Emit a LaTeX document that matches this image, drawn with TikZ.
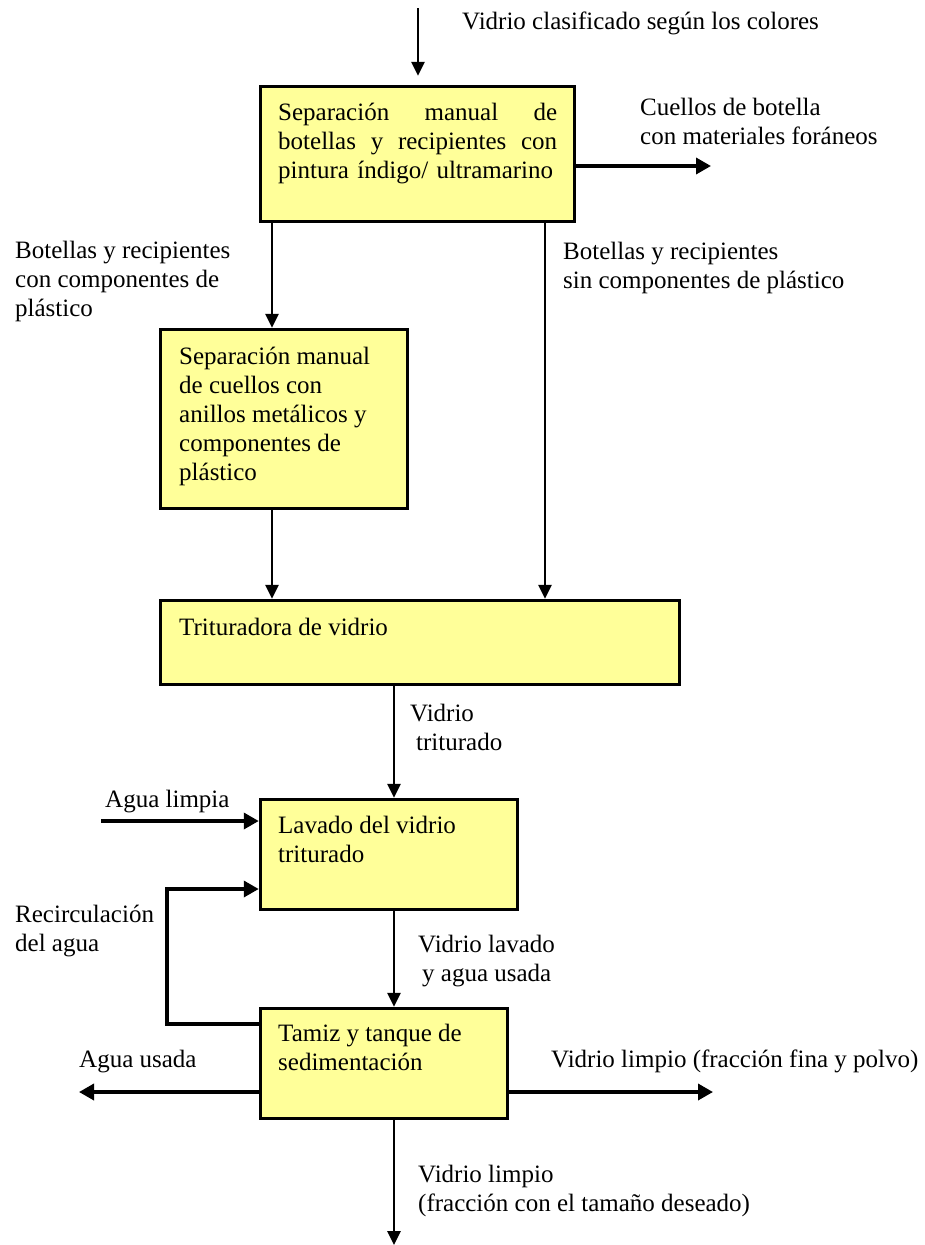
\documentclass[tikz,border=0pt]{standalone}
\usepackage{fontspec}
\setmainfont{Liberation Serif}
\usetikzlibrary{positioning,calc,arrows.meta}
\definecolor{boxyellow}{HTML}{FFFF99}

\begin{document}
\begin{tikzpicture}[x=1pt, y=-1pt]
	\useasboundingbox (0,0) rectangle (924,1245);
	\begin{scope}
		\tikzstyle{every node}=[align=left, inner sep=0pt, font=\fontsize{25}{29}\selectfont]
		\tikzstyle{proc}=[draw, line width=3.5pt, fill=boxyellow]
		\tikzstyle{txt}=[anchor=base west]
		\tikzstyle{flow}=[->, line width=2.8pt, >={Triangle[length=14pt,width=13pt]}]
		\tikzstyle{side}=[->, line width=3.5pt, >={Triangle[length=15pt,width=16pt]}]

		% process boxes
		\node[proc, minimum width=314pt, minimum height=135pt] (sep1) at (417.5, 154) {};
		\node[proc, minimum width=247pt, minimum height=179pt] (sep2) at (284, 419) {};
		\node[proc, minimum width=519pt, minimum height=84pt]  (trit) at (420, 642.5) {};
		\node[proc, minimum width=257pt, minimum height=110pt] (lav)  at (389, 854.5) {};
		\node[proc, minimum width=247pt, minimum height=110pt] (tam)  at (384, 1063.5) {};

		% box texts (base = last line)
		\node[txt, text width=279pt] (sep1t) at (278, 120)
			{Separación\hfill manual\hfill de\\botellas\hfill y\hfill recipientes\hfill con\\pintura índigo/ ultramarino};
		\node[txt] (sep2t) at (179, 480)
			{Separación manual\\de cuellos con\\anillos metálicos y\\componentes de\\plástico};
		\node[txt] (tritt) at (179, 635) {Trituradora de vidrio};
		\node[txt] (lavt)  at (278, 862) {Lavado del vidrio\\triturado};
		\node[txt] (tamt)  at (278, 1070) {Tamiz y tanque de\\sedimentación};

		% labels
		\node[txt] (lblin)     at (462, 29)   {Vidrio clasificado según los colores};
		\node[txt] (lblneck)   at (640, 144)  {Cuellos de botella\\con materiales foráneos};
		\node[txt] (lblplas)   at (15, 316)   {Botellas y recipientes\\con componentes de\\plástico};
		\node[txt] (lblnopl)   at (563, 288)  {Botellas y recipientes\\sin componentes de plástico};
		\node[txt] (lblcrush)  at (410, 750)  {Vidrio\\\hspace*{6pt}triturado};
		\node[txt] (lblwater)  at (105, 807)  {Agua limpia};
		\node[txt] (lblrecirc) at (15, 951)   {Recirculación\\del agua};
		\node[txt] (lblwash)   at (418, 981)  {Vidrio lavado\\\hspace*{4pt}y agua usada};
		\node[txt] (lblused)   at (79, 1067)  {Agua usada};
		\node[txt] (lblfine)   at (551, 1067) {Vidrio limpio (fracción fina y polvo)};
		\node[txt] (lblprod)   at (418, 1211) {Vidrio limpio\\(fracción con el tamaño deseado)};

		\coordinate (feed)  at (418, 8);
		\coordinate (neck)  at (711, 166);
		\coordinate (xl)    at (272, 0);
		\coordinate (xr)    at (545, 0);
		\coordinate (xm)    at (394, 0);
		\coordinate (prod)  at (394, 1245);
		\coordinate (water) at (101, 821);
		\coordinate (rt)    at (167, 889);
		\coordinate (rb)    at (167, 1024);
		\coordinate (used)  at (79, 1092);
		\coordinate (fine)  at (713, 1092);

		\draw [flow, shorten >=9pt] (feed) to (feed |- sep1.north);
		\draw [side] (neck -| sep1.east) to (neck);
		\draw [flow] (xl |- sep1.south) to (xl |- sep2.north);
		\draw [flow] (xr |- sep1.south) to (xr |- trit.north);
		\draw [flow] (xl |- sep2.south) to (xl |- trit.north);
		\draw [flow] (xm |- trit.south) to (xm |- lav.north);
		\draw [flow] (xm |- lav.south) to (xm |- tam.north);
		\draw [flow] (xm |- tam.south) to (prod);

		\draw [side] (water) to (water -| lav.west);
		\draw [side] (rb -| tam.west) -- (rb) -- (rt) -- (rt -| lav.west);
		\draw [side] (used -| tam.west) to (used);
		\draw [side] (fine -| tam.east) to (fine);
	\end{scope}
\end{tikzpicture}
\end{document}
